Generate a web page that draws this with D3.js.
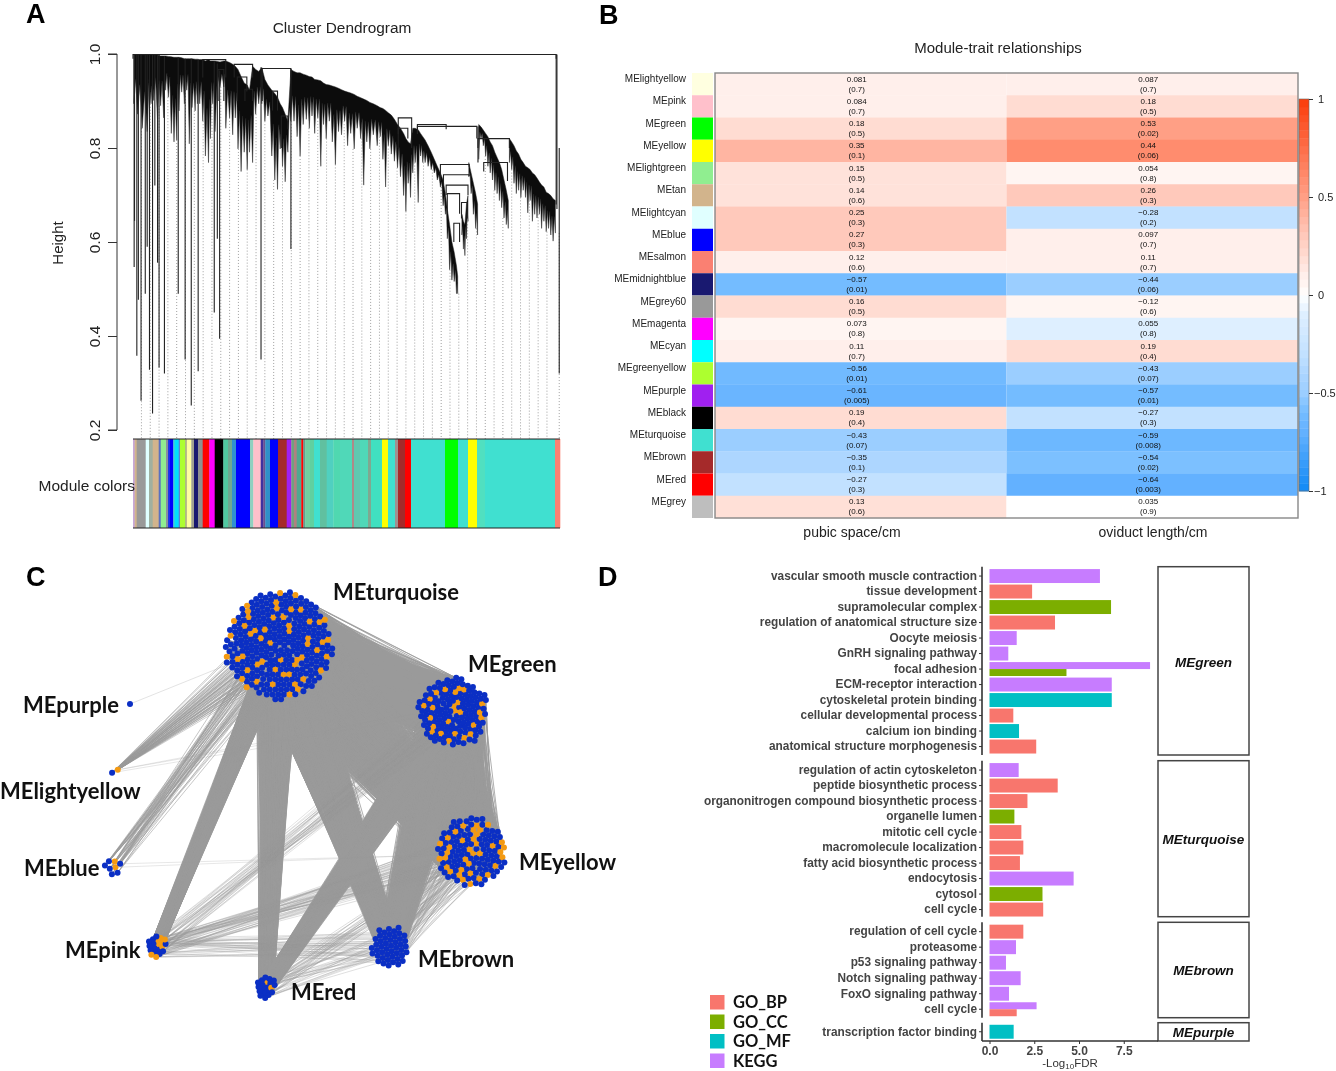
<!DOCTYPE html>
<html><head><meta charset="utf-8">
<script src="https://cdn.jsdelivr.net/npm/d3@7"></script>
<style>
html,body{margin:0;padding:0;background:#fff}
svg{display:block;filter:blur(0.3px)}
text{font-family:"Liberation Sans",Arial,sans-serif}
</style></head><body><svg id="fig" width="1336" height="1071"></svg>
<script>
/* ---------- Panel A : dendrogram (gene rank, height) ---------- */
const guideRanks=[22,45,68,91,114,137,160,183,206,229,252,275,298,321,344,367,390,413,436,459,482,505,528,551,574,597,620,643,666,689,712,735,758,781,804,827,850,873,896,919,942,965,988,1011,1034,1057,1080,1112];
const fringeMain=[[2,.999,.894],[12,.998,.872],[24,.998,.842],[37,.998,.835],[47,.998,.894],[54,.998,.901],[64,.998,.861],[72,.996,.890],[80,.996,.864],[85,.996,.923],[92,.995,.908],[100,.994,.831],[107,.993,.813],[114,.993,.817],[120,.993,.879],[127,.992,.919],[134,.990,.894],[140,.990,.923],[147,.990,.809],[154,.990,.886],[162,.989,.879],[168,.989,.894],[174,.988,.894],[182,.988,.857],[189,.985,.783],[197,.988,.769],[202,.985,.820],[208,.985,.894],[214,.985,.835],[227,.983,.930],[237,.985,.930],[242,.985,.842],[252,.982,.864],[260,.978,.828],[267,.974,.864],[274,.967,.798],[282,.952,.750],[290,.938,.791],[298,.934,.754],[304,.923,.791],[312,.974,.769],[320,.967,.872],[328,.963,.894],[336,.971,.894],[344,.946,.857],[352,.934,.868],[362,.923,.783],[370,.916,.732],[377,.908,.712],[384,.894,.798],[390,.886,.761],[397,.872,.728],[404,.857,.791],[412,.967,.857],[420,.963,.857],[428,.960,.824],[436,.960,.783],[444,.957,.850],[452,.955,.861],[460,.952,.842],[467,.951,.868],[474,.946,.831],[482,.945,.864],[490,.943,.761],[497,.938,.850],[504,.935,.820],[512,.934,.857],[520,.932,.813],[528,.930,.765],[536,.927,.835],[544,.924,.828],[552,.921,.857],[560,.919,.805],[568,.917,.831],[577,.914,.798],[585,.910,.842],[594,.907,.820],[602,.904,.721],[610,.901,.813],[618,.897,.798],[627,.894,.828],[637,.890,.805],[645,.886,.824],[652,.884,.776],[659,.880,.717],[666,.875,.805],[674,.870,.787],[682,.861,.772],[690,.850,.758],[698,.842,.739],[706,.831,.699],[712,.820,.665],[718,.813,.725],[724,.809,.695],[730,.842,.747],[736,.842,.769],[744,.839,.684],[750,.831,.783],[756,.824,.769],[762,.817,.769],[770,.805,.761],[778,.791,.754],[786,.776,.747],[794,.761,.732],[802,.747,.717],[809,.732,.677],[815,.703,.659],[820,.670,.607],[826,.637,.541],[832,.600,.519],[838,.578,.516],[844,.549,.490],[847,.527,.490]];
const fringeMid=[[858,.659,.615],[862,.644,.585],[866,.637,.571],[870,.681,.607],[874,.699,.644]];
const fringeTip=[[876,.769,.739],[882,.747,.703],[888,.725,.659],[894,.703,.629],[899,.681,.615]];
const fringeRightA=[[902,.850,.776],[908,.845,.820],[914,.838,.805],[920,.831,.783],[926,.824,.761],[932,.813,.747],[938,.805,.732],[944,.791,.710],[950,.780,.703],[956,.769,.688],[962,.754,.673],[968,.732,.651],[974,.710,.637],[979,.688,.629]];
const fringeRightB=[[982,.820,.769],[988,.813,.754],[994,.805,.725],[1000,.794,.703],[1006,.787,.710],[1012,.776,.695],[1018,.769,.710],[1024,.761,.695],[1030,.758,.662],[1036,.754,.688],[1042,.747,.644],[1048,.743,.659],[1054,.736,.651],[1060,.728,.659],[1066,.721,.629],[1072,.717,.644],[1078,.706,.622],[1084,.703,.629],[1090,.699,.615],[1096,.692,.602],[1102,.688,.619]];
const dendroSpikes=[[3,.999,.547],[4,.999,.645],[10,.999,.358],[14,.999,.477],[21,.998,.262],[32,.998,.49],[37,.998,.59],[43,.998,.328],[51,.998,.235],[57,.998,.72],[64,.998,.556],[68,.998,.333],[82,.996,.32],[118,.993,.49],[136,.99,.35],[152,.99,.252],[170,.988,.325],[212,.985,.45],[220,.98,.607],[226,.965,.394],[334,.972,.35],[412,.968,.585],[900,.846,.769],[1104,.999,.68],[1106,.999,.67],[1112,.80,.32]];
const dendroLinks=[[0,1104,.999,.99,.99],[692,727,.864,.83,.80],[742,817,.850,.83,.84],[742,897,.846,.83,.82],[900,982,.82,.80,.80],[915,977,.769,.75,.73],[802,877,.765,.73,.76],[810,877,.743,.72,.74],[817,874,.721,.70,.70],[820,852,.703,.66,.66],[857,872,.684,.65,.65],[837,852,.64,.60,.60],[692,717,.842,.80,.82],[182,242,.988,.95,.95],[264,312,.978,.95,.95],[337,412,.969,.90,.95],[272,297,.951,.90,.92],[292,312,.925,.90,.90],[364,377,.921,.88,.88],[387,404,.868,.80,.84],[222,237,.967,.90,.90]];
const heightTicks=[0.2,0.4,0.6,0.8,1.0];
const stripeEnd=[1.7,3.7,12.7,16,19.7,25.7,27.7,33,35,36.3,40.3,41.7,45.7,47,52.3,53.7,58.3,61,65,69.7,76.3,81.7,90.3,95,99,103,117,120.3,127.7,130.3,132.3,137,145,153.7,158.3,161,163.7,168.3,170.3,172.3,177,181,187,193.7,200.3,207,219,221,227,235,238,249,255,262,265,272,278,312,325,335,344,352,422,427];
const stripeColor=["#c8a8d8","#d2b48c","#999999","#e0ffff","#a0b0a0","#d2b48c","#5a70c0","#90ee90","#8a90a0","#1840e0","#0000ff","#40d0d0","#00e0ff","#6080d0","#adff2f","#a0a080","#ffffa0","#a0a090","#191970","#909090","#ff0000","#ff00ff","#000000","#50c8a0","#70a890","#3090d0","#0000ff","#90d0c0","#ffc0cb","#4030a0","#6a5090","#3090c8","#0000ff","#a52a2a","#a020f0","#70a080","#b08080","#50a890","#ff0000","#60a090","#70d0a0","#60d0a0","#40e0d0","#60c0a0","#50d0c0","#50d8b0","#50d8b8","#b08888","#60c8b0","#50d8b8","#80a890","#40e0c0","#ffff00","#40e0d0","#a09090","#a52a2a","#ff0000","#40e0d0","#00ff00","#40e0d0","#ffff00","#50e0c0","#40e0d0","#fa8072"];

/* ---------- Panel B : module-trait heatmap ---------- */
const traitNames=["pubic space/cm","oviduct length/cm"];
const moduleNames=["MElightyellow","MEpink","MEgreen","MEyellow","MElightgreen","MEtan","MElightcyan","MEblue","MEsalmon","MEmidnightblue","MEgrey60","MEmagenta","MEcyan","MEgreenyellow","MEpurple","MEblack","MEturquoise","MEbrown","MEred","MEgrey"];
const moduleSwatch=["#ffffe0","#ffc0cb","#00ff00","#ffff00","#90ee90","#d2b48c","#e0ffff","#0000ff","#fa8072","#191970","#999999","#ff00ff","#00ffff","#adff2f","#a020f0","#000000","#40e0d0","#a52a2a","#ff0000","#bebebe"];
const corrPubic=[0.081,0.084,0.18,0.35,0.15,0.14,0.25,0.27,0.12,-0.57,0.16,0.073,0.11,-0.56,-0.61,0.19,-0.43,-0.35,-0.27,0.13];
const pPubic=[0.7,0.7,0.5,0.1,0.5,0.6,0.3,0.3,0.6,0.01,0.5,0.8,0.7,0.01,0.005,0.4,0.07,0.1,0.3,0.6];
const corrOviduct=[0.087,0.18,0.53,0.44,0.054,0.26,-0.28,0.097,0.11,-0.44,-0.12,0.055,0.19,-0.43,-0.57,-0.27,-0.59,-0.54,-0.64,0.035];
const pOviduct=[0.7,0.5,0.02,0.06,0.8,0.3,0.2,0.7,0.7,0.06,0.6,0.8,0.4,0.07,0.01,0.3,0.008,0.02,0.003,0.9];
/* tint actually shown in each cell, read on the colour bar */
const tintPubic=[0.1,0.1,0.2,0.4,0.17,0.17,0.3,0.3,0.1,-0.6,0.2,0.05,0.1,-0.62,-0.66,0.2,-0.5,-0.4,-0.3,0.18];
const tintOviduct=[0.1,0.2,0.5,0.6,0.05,0.3,-0.3,0.1,0.1,-0.5,0.05,-0.1,0.2,-0.5,-0.6,-0.3,-0.64,-0.58,-0.7,0];
const barTicks=[1,0.5,0,-0.5,-1];
const tintStops=[-1,-0.7,-0.6,-0.5,-0.4,-0.3,-0.1,0,0.05,0.1,0.2,0.3,0.4,0.5,0.6,1];
const tintColors=["#1089f5","#63b1ff","#74bcff","#9bceff","#add6ff","#c2e1ff","#deefff","#ffffff","#fff5f2","#ffefeb","#ffdcd2","#ffc9bb","#ffb5a2","#ff9f85","#ff8c6e","#fb3c0a"];

/* ---------- Panel C : network ---------- */
const netNames=["MEturquoise","MEgreen","MEyellow","MEbrown","MEred","MEpink","MEblue","MElightyellow","MEpurple"];
const netCounts=[320,150,135,46,20,20,8,2,1];
const netOrange=[18,24,34,0,8,45,12,30,0];
const netLayoutX=[44.75,88.25,92.75,72.5,41.5,14.25,3.25,3.75,7.5];
const netLayoutY=[13.75,30.5,65.5,89.25,99.25,89,69.25,45.25,28.5];
const netLayoutR=[14.5,9.75,9.5,6,3.5,3.5,2.8,1.6,0];
const netLabelX=[333,468,519,418,291,65,24,0,23];
const netLabelY=[592,664,862,959,992,950,868,791,705];
/* source, target, edge count, source spread, target spread, opacity */
const netEdges=[["MEturquoise","MEgreen",1700,1,1,1],["MEturquoise","MEyellow",1900,1,1,1],["MEgreen","MEyellow",900,1,1,1],["MEturquoise","MEbrown",900,.55,.5,1],["MEgreen","MEbrown",700,.9,.6,1],["MEturquoise","MEred",500,.36,.55,1],["MEturquoise","MEpink",500,.24,.45,1],["MEgreen","MEred",450,.5,.6,1],["MEyellow","MEbrown",90,.95,.8,.45],["MEyellow","MEred",28,.9,.7,.4],["MEyellow","MEpink",50,.9,.8,.4],["MEgreen","MEpink",40,.7,.8,.35],["MEbrown","MEpink",34,.7,.8,.35],["MEbrown","MEred",24,.8,.8,.4],["MEturquoise","MElightyellow",70,.7,1,.6],["MEgreen","MElightyellow",3,.4,1,.3],["MEturquoise","MEblue",50,.35,.8,.7],["MEyellow","MEblue",2,.5,.8,.3],["MEturquoise","MEpurple",1,.02,1,.35]];

/* ---------- Panel D : enrichment bars ---------- */
const facetNames=["MEgreen","MEturquoise","MEbrown","MEpurple"];
const termsGreen=["vascular smooth muscle contraction","tissue development","supramolecular complex","regulation of anatomical structure size","Oocyte meiosis","GnRH signaling pathway","focal adhesion","focal adhesion","ECM-receptor interaction","cytoskeletal protein binding","cellular developmental process","calcium ion binding","anatomical structure morphogenesis"];
const valuesGreen=[6.17,2.38,6.79,3.66,1.52,1.05,8.97,4.3,6.83,6.83,1.33,1.65,2.61];
const kindsGreen=["KEGG","GO_BP","GO_CC","GO_BP","KEGG","KEGG","KEGG","GO_CC","KEGG","GO_MF","GO_BP","GO_MF","GO_BP"];
const termsTurquoise=["regulation of actin cytoskeleton","peptide biosynthetic process","organonitrogen compound biosynthetic process","organelle lumen","mitotic cell cycle","macromolecule localization","fatty acid biosynthetic process","endocytosis","cytosol","cell cycle"];
const valuesTurquoise=[1.63,3.81,2.12,1.39,1.78,1.89,1.7,4.7,2.96,3.0];
const kindsTurquoise=["KEGG","GO_BP","GO_BP","GO_CC","GO_BP","GO_BP","GO_BP","KEGG","GO_CC","GO_BP"];
const termsBrown=["regulation of cell cycle","proteasome","p53 signaling pathway","Notch signaling pathway","FoxO signaling pathway","cell cycle","cell cycle"];
const valuesBrown=[1.89,1.48,0.92,1.74,1.09,2.63,1.52];
const kindsBrown=["GO_BP","KEGG","KEGG","KEGG","KEGG","KEGG","GO_BP"];
const termsPurple=["transcription factor binding"];
const valuesPurple=[1.35];
const kindsPurple=["GO_MF"];
const kindNames=["GO_BP","GO_CC","GO_MF","KEGG"];
const kindColors=["#F8766D","#7CAE00","#00BFC4","#C77CFF"];
const fdrTicks=[0,2.5,5,7.5];

const svg=d3.select("#fig");
const letter=(t,x,y)=>svg.append("text").attr("x",x).attr("y",y).text(t).attr("font-size",27).attr("font-weight",700).attr("fill","#000");
letter("A",26,23);letter("B",599,24);letter("C",26,586);letter("D",598,586);

/* ===== A ===== */
(function(){
 const g=svg.append("g");
 const x=d3.scaleLinear().domain([0,1114]).range([133,560]);
 const y=d3.scaleLinear().domain([0.2,1]).range([430,54]);
 g.append("text").attr("x",342).attr("y",33).attr("text-anchor","middle").attr("font-size",15.4).attr("fill","#222").text("Cluster Dendrogram");
 g.append("text").attr("transform","translate(63,243) rotate(-90)").attr("text-anchor","middle").attr("font-size",15).attr("fill","#222").text("Height");
 const ax=g.append("g").attr("transform","translate(117,0)").call(d3.axisLeft(y).tickValues(heightTicks).tickSize(9).tickFormat(d3.format(".1f")));
 ax.selectAll("path,line").attr("stroke","#333").attr("stroke-width",1);
 ax.selectAll("text").attr("font-size",15.5).attr("fill","#222").attr("font-family",'"Liberation Sans"')
   .attr("x",0).attr("y",0).attr("dy","0.35em").attr("text-anchor","middle").attr("transform","translate(-22,0) rotate(-90)");
 ax.select(".domain").attr("d",`M-9,${y(.2)}H0V${y(1)}H-9`);
 const bands=[fringeMain,fringeMid,fringeTip,fringeRightA,fringeRightB];
 const allRows=bands.flat().sort((a,b)=>a[0]-b[0]);
 const bis=d3.bisector(d=>d[0]).center;
 g.append("g").selectAll("line").data(guideRanks).join("line")
  .attr("x1",d=>x(d)).attr("x2",d=>x(d))
  .attr("y1",d=>y(allRows[bis(allRows,d)][2])).attr("y2",439)
  .attr("stroke","#888").attr("stroke-width",.8).attr("stroke-dasharray","1 2");
 /* fringe outline: canopy along the tops, one tooth for each bottom */
 const teeth=rows=>{
  let s="M"+rows.map(r=>`${x(r[0]).toFixed(1)},${y(r[1]).toFixed(1)}`).join("L");
  for(let i=rows.length-1;i>=0;i--){
   const r=rows[i];
   s+=`L${x(r[0]).toFixed(1)},${y(r[2]).toFixed(1)}`;
   if(i>0){const p=rows[i-1],t=(r[1]+p[1])/2,b=Math.max(r[2],p[2]);
    s+=`L${x((r[0]+p[0])/2).toFixed(1)},${y(t-(t-b)*.5).toFixed(1)}`;}
  }
  return s+"Z";
 };
 g.append("g").selectAll("path").data(bands).join("path").attr("d",teeth).attr("fill","#0c0c0c").attr("stroke","#222").attr("stroke-width",.5);
 g.append("g").selectAll("line").data(dendroSpikes).join("line")
  .attr("x1",d=>x(d[0])).attr("x2",d=>x(d[0])).attr("y1",d=>y(d[1])).attr("y2",d=>y(d[2]))
  .attr("stroke","#222").attr("stroke-width",1.1);
 g.append("g").selectAll("path").data(dendroLinks).join("path")
  .attr("d",d=>`M${x(d[0])},${y(d[3])}V${y(d[2])}H${x(d[1])}V${y(d[4])}`)
  .attr("fill","none").attr("stroke","#222").attr("stroke-width",1.1);
 const stripes=stripeEnd.map((e,i)=>({a:i?stripeEnd[i-1]:0,b:e,c:stripeColor[i]}));
 const sx=d3.scaleLinear().domain([0,427]).range([133,560]);
 g.append("g").selectAll("rect").data(stripes).join("rect")
  .attr("x",d=>sx(d.a)).attr("width",d=>sx(d.b)-sx(d.a)+.3).attr("y",439).attr("height",89).attr("fill",d=>d.c);
 g.append("line").attr("x1",133).attr("x2",560).attr("y1",439).attr("y2",439).attr("stroke","#222");
 g.append("line").attr("x1",133).attr("x2",560).attr("y1",528).attr("y2",528).attr("stroke","#222");
 g.append("text").attr("x",135).attr("y",491).attr("text-anchor","end").attr("font-size",15.5).attr("fill","#222").text("Module colors");
})();

/* ===== B ===== */
(function(){
 const g=svg.append("g");
 const color=d3.scaleLinear().domain(tintStops).range(tintColors);
 const row=d3.scaleBand().domain(moduleNames).range([73,518]);
 const col=d3.scaleBand().domain(traitNames).range([715,1298]);
 g.append("text").attr("x",998).attr("y",53).attr("text-anchor","middle").attr("font-size",15).attr("fill","#222").text("Module-trait relationships");
 const cells=moduleNames.flatMap((m,i)=>[
  {m,t:traitNames[0],r:corrPubic[i],p:pPubic[i],s:tintPubic[i]},
  {m,t:traitNames[1],r:corrOviduct[i],p:pOviduct[i],s:tintOviduct[i]}]);
 g.append("g").selectAll("rect").data(cells).join("rect")
  .attr("x",d=>col(d.t)).attr("y",d=>row(d.m)).attr("width",col.bandwidth()).attr("height",row.bandwidth()+.3).attr("fill",d=>color(d.s));
 g.append("rect").attr("x",715).attr("y",73).attr("width",583).attr("height",445).attr("fill","none").attr("stroke","#888").attr("stroke-width",1.4);
 g.append("g").selectAll("rect").data(moduleNames).join("rect")
  .attr("x",692).attr("width",21).attr("y",d=>row(d)).attr("height",row.bandwidth()).attr("fill",(d,i)=>moduleSwatch[i]);
 g.append("g").selectAll("text").data(moduleNames).join("text")
  .attr("x",686).attr("y",d=>row(d)+row.bandwidth()/2-2).attr("text-anchor","end").attr("font-size",10).attr("fill","#222").text(d=>d);
 const ct=g.append("g").attr("font-size",8).attr("fill","#111").attr("text-anchor","middle");
 const fmt=v=>String(v).replace("-","\u2212");
 ct.selectAll(".r").data(cells).join("text").attr("class","r").attr("x",d=>col(d.t)+col.bandwidth()/2-4).attr("y",d=>row(d.m)+8.5).text(d=>fmt(d.r));
 ct.selectAll(".p").data(cells).join("text").attr("class","p").attr("x",d=>col(d.t)+col.bandwidth()/2-4).attr("y",d=>row(d.m)+18.5).text(d=>`(${d.p})`);
 g.append("g").selectAll("text").data(traitNames).join("text")
  .attr("x",(d,i)=>[852,1153][i]).attr("y",537).attr("text-anchor","middle").attr("font-size",14).attr("fill","#222").text(d=>d);
 const by=d3.scaleLinear().domain([1,-1]).range([99,491]);
 const steps=d3.range(-1,1,0.04);
 g.append("g").selectAll("rect").data(steps).join("rect")
  .attr("x",1299).attr("width",10).attr("y",d=>by(d+0.04)).attr("height",d=>by(d)-by(d+0.04)+.4).attr("fill",d=>color(d+.02));
 g.append("rect").attr("x",1299).attr("y",99).attr("width",10).attr("height",392).attr("fill","none").attr("stroke","#666").attr("stroke-width",.6);
 const ax=g.append("g").attr("transform","translate(1309,0)").call(d3.axisRight(by).tickValues(barTicks).tickSize(4).tickFormat(d=>fmt(d)));
 ax.select(".domain").remove();
 ax.selectAll("line").attr("stroke","#333");
 ax.selectAll("text").attr("font-size",11).attr("fill","#222").attr("font-family",'"Liberation Sans"').attr("x",d=>d<0?5:9);
})();

/* ===== C ===== */
(function(){
 const g=svg.append("g");
 const lx=d3.scaleLinear().domain([0,100]).range([100,500]);
 const ly=d3.scaleLinear().domain([0,100]).range([590,990]);
 const nodeR=3;
 const mods=new Map();
 netNames.forEach((name,i)=>{
  const pts=d3.range(netCounts[i]).map(()=>({}));
  if(pts.length>1){
   const sim=d3.forceSimulation(pts).force("c",d3.forceCollide(3.2).iterations(2)).force("x",d3.forceX(0).strength(.04)).force("y",d3.forceY(0).strength(.04)).stop();
   sim.tick(160);
  } else {pts[0].x=0;pts[0].y=0;}
  const R=lx(netLayoutR[i])-lx(0);
  const far=d3.max(pts,p=>Math.hypot(p.x,p.y))||1;
  const k=pts.length>1?(R-nodeR)/far:0;
  const cx=lx(netLayoutX[i]),cy=ly(netLayoutY[i]);
  const nodes=pts.map((p,j)=>({x:cx+p.x*k,y:cy+p.y*k,orange:((j*j*7+j*31+11)%100)<netOrange[i]}));
  mods.set(name,{nodes,cx,cy,R:Math.max(R,1)});
 });
 const pool=(a,b,spread)=>{
  const dx=b.cx-a.cx,dy=b.cy-a.cy,l=Math.hypot(dx,dy);
  const res=a.nodes.filter(n=>Math.abs((n.x-a.cx)*(-dy/l)+(n.y-a.cy)*(dx/l))<=spread*a.R);
  return res.length?res:a.nodes;
 };
 g.append("g").attr("fill","none").attr("stroke","#9a9a9a").attr("stroke-width",.8)
  .selectAll("path").data(netEdges).join("path")
  .attr("stroke-opacity",d=>d[5])
  .attr("d",d=>{
    const A=mods.get(d[0]),B=mods.get(d[1]);
    const pa=pool(A,B,d[3]),pb=pool(B,A,d[4]);
    let s="";
    for(let k=0;k<d[2];k++){
      const u=pa[k%pa.length],v=pb[(k*13+(k>>2))%pb.length];
      s+=`M${u.x.toFixed(1)},${u.y.toFixed(1)}L${v.x.toFixed(1)},${v.y.toFixed(1)}`;
    }
    return s;
  });
 const all=netNames.flatMap(n=>mods.get(n).nodes);
 g.append("g").selectAll("circle").data(all).join("circle")
  .attr("cx",d=>d.x).attr("cy",d=>d.y).attr("r",nodeR).attr("fill",d=>d.orange?"#f49a12":"#0b2fc4");
 g.append("g").selectAll("text").data(netNames).join("text")
  .attr("x",(d,i)=>netLabelX[i]).attr("y",(d,i)=>netLabelY[i]+8).attr("font-size",22).attr("font-weight",700).attr("fill","#111")
  .style("font-family","Lato").text(d=>d);
})();

/* ===== D ===== */
(function(){
 const g=svg.append("g");
 const x=d3.scaleLinear().domain([0,9]).range([989.5,1150.6]);
 const color=d3.scaleOrdinal().domain(kindNames).range(kindColors);
 const facets=[
  {n:facetNames[0],t:termsGreen,v:valuesGreen,k:kindsGreen,top:566.7,bot:755,a:568.3,b:754.3,ly:662},
  {n:facetNames[1],t:termsTurquoise,v:valuesTurquoise,k:kindsTurquoise,top:760.7,bot:916.7,a:762.3,b:917.3,ly:839},
  {n:facetNames[2],t:termsBrown,v:valuesBrown,k:kindsBrown,top:922.3,bot:1017.7,a:923.9,b:1017,ly:970},
  {n:facetNames[3],t:termsPurple,v:valuesPurple,k:kindsPurple,top:1022.7,bot:1041,a:1024,b:1039.5,ly:1032}];
 facets.forEach(f=>{
  const names=Array.from(new Set(f.t));
  const y=d3.scaleBand().domain(names).range([f.a,f.b]).paddingInner(.1).paddingOuter(.05);
  const rows=f.t.map((t,i)=>({t,v:f.v[i],k:f.k[i]}));
  const grouped=d3.group(rows,d=>d.t);
  const sub=[];
  grouped.forEach(list=>list.forEach((d,j)=>sub.push({...d,j,m:list.length})));
  g.append("g").selectAll("rect").data(sub).join("rect")
   .attr("x",x(0)).attr("width",d=>x(d.v)-x(0))
   .attr("y",d=>y(d.t)+d.j*y.bandwidth()/d.m).attr("height",d=>y.bandwidth()/d.m)
   .attr("fill",d=>color(d.k));
  const ax=g.append("g").attr("transform","translate(982,0)").call(d3.axisLeft(y).tickSize(3).tickPadding(2));
  ax.select(".domain").attr("d",`M0,${f.top}V${f.bot}`).attr("stroke","#333").attr("stroke-width",1.6);
  ax.selectAll("line").attr("stroke","#333");
  ax.selectAll("text").attr("font-size",11.85).attr("font-weight",700).attr("fill","#444").attr("font-family",'"Liberation Sans"');
  g.append("rect").attr("x",1158).attr("y",f.top).attr("width",91).attr("height",f.bot-f.top).attr("fill","none").attr("stroke","#444").attr("stroke-width",1.5);
  g.append("text").attr("x",1203.5).attr("y",f.ly+5).attr("text-anchor","middle").attr("font-size",13.5).attr("font-weight",700).attr("font-style","italic").attr("fill","#111").text(f.n);
 });
 const ax=g.append("g").attr("transform","translate(0,1041)").call(d3.axisBottom(x).tickValues(fdrTicks).tickSize(3).tickPadding(2).tickFormat(d3.format(".1f")));
 ax.select(".domain").attr("d","M982,0H1158").attr("stroke","#333").attr("stroke-width",1.4);
 ax.selectAll("line").attr("stroke","#333");
 ax.selectAll("text").attr("font-size",12).attr("font-weight",700).attr("fill","#444").attr("font-family",'"Liberation Sans"');
 const tt=g.append("text").attr("x",1070).attr("y",1067).attr("text-anchor","middle").attr("font-size",11.5).attr("fill","#333");
 tt.append("tspan").text("-Log");
 tt.append("tspan").attr("font-size",8).attr("dy",2).text("10");
 tt.append("tspan").attr("dy",-2).text("FDR");
 const lg=d3.scaleBand().domain(kindNames).range([994,1072]);
 g.append("g").selectAll("rect").data(kindNames).join("rect")
  .attr("x",710).attr("y",d=>lg(d)+1).attr("width",14.5).attr("height",14.5).attr("fill",d=>color(d));
 g.append("g").selectAll("text").data(kindNames).join("text")
  .attr("x",733).attr("y",d=>lg(d)+14).attr("font-size",16.5).attr("font-weight",700).attr("fill","#111").style("font-family","Lato").text(d=>d);
})();
</script></body></html>
